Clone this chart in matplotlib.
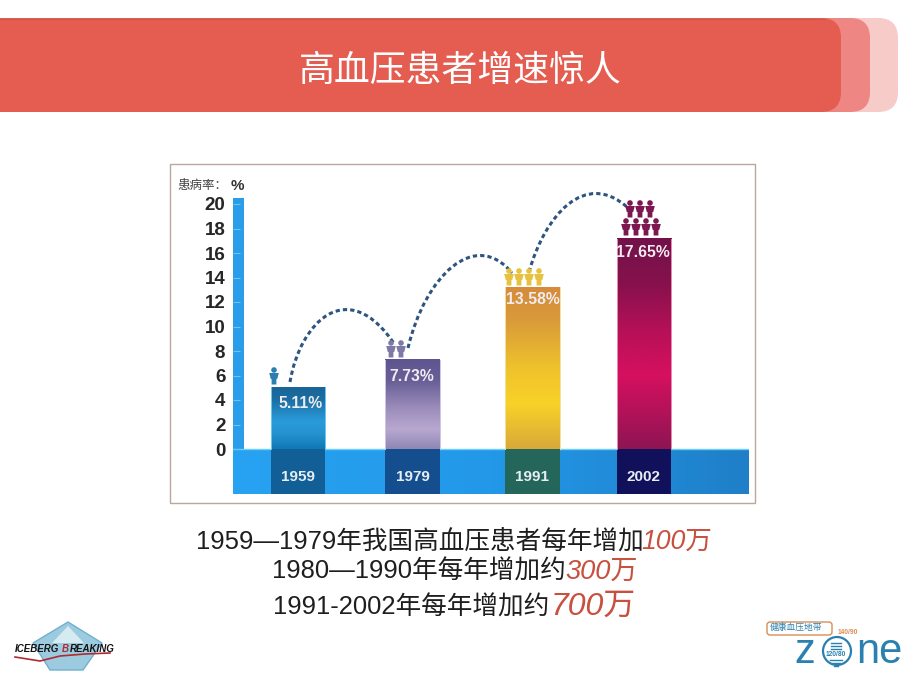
import numpy as np
import matplotlib
matplotlib.use("Agg")
import matplotlib.pyplot as plt
from matplotlib.colors import LinearSegmentedColormap
from matplotlib.patches import FancyBboxPatch, PathPatch, Rectangle, Circle, Polygon
from matplotlib.path import Path

FONT = ['Liberation Sans', 'Noto Sans CJK SC']
plt.rcParams['font.family'] = FONT

# ---- data ----
years = ['1959', '1979', '1991', '2002']
rate_labels = ['5.11%', '7.73%', '13.58%', '17.65%']
bar_heights = [5.05, 7.3, 13.2, 17.15]       # heights as drawn in the picture
y_ticks = [0, 2, 4, 6, 8, 10, 12, 14, 16, 18, 20]
title = '高血压患者增速惊人'
y_title = '患病率：'
caption_black = ['1959—1979年我国高血压患者每年增加', '1980—1990年每年增加约', '1991-2002年每年增加约']
caption_red = ['100万', '300万', '700万']

# ---- layout / style ----
W, H = 920, 690
bar_centers = [298, 412.5, 532.5, 644]
bar_w = 54.5
bar_grads = [
    [(0, '#1A6496'), (0.2, '#1B6EA4'), (0.55, '#2A9BD9'), (0.75, '#2593D0'), (1, '#0F78B5')],
    [(0, '#5E5590'), (0.25, '#6A6098'), (0.55, '#9C8DBB'), (0.78, '#B8A8D0'), (1, '#8F87B5')],
    [(0, '#D58B3C'), (0.2, '#D99A3A'), (0.5, '#EFC22C'), (0.72, '#F8D228'), (1, '#D8A93A')],
    [(0, '#73124A'), (0.2, '#84114C'), (0.45, '#B81058'), (0.65, '#D6105F'), (1, '#8E1553')],
]
band_cols = ['#125E96', '#154E8E', '#24665A', '#11105A']
bar_edges = ['#6FC8F2', '#CFC6E2', '#F6DFA0', '#E98DB4']
label_off = [16, 17, 12, 14]
label_dx = [3, -1, 0, -1]
icon_cols = ['#2C7FB0', '#7D7AA6', '#E6C23E', '#7E1650']
icon_pos = [
    [(274, 376)],
    [(391, 349), (401, 349)],
    [(509, 277), (519, 277), (529, 277), (539, 277)],
    [(630, 209), (640, 209), (650, 209), (626, 227), (636, 227), (646, 227), (656, 227)],
]

fig = plt.figure(figsize=(W / 100, H / 100), dpi=100, facecolor='white')
px = fig.add_axes([0, 0, 1, 1], zorder=0)
px.set_xlim(0, W); px.set_ylim(H, 0); px.axis('off')

# header
for x1, c in [(898, '#F7CBC8'), (870, '#EE8783'), (841, '#E55C50')]:
    px.add_patch(FancyBboxPatch((-40, 18), x1 + 40, 94,
                                boxstyle='round,pad=0,rounding_size=20', fc=c, ec='none'))
px.plot([0, 825], [18.5, 18.5], color='#D2574C', lw=0.8)
px.text(460, 71, title, color='white', fontsize=25.8, ha='center', va='center')

# chart frame
px.add_patch(Rectangle((170.5, 163.5), 585, 339.5, fc='white', ec='#BBA6A0', lw=1))

# chart axes
top_px, bot_px, left_px, right_px = 198.0, 494.0, 233.0, 749.0
zero_px, per_unit = 449.0, 12.25
ax = fig.add_axes([left_px / W, 1 - bot_px / H, (right_px - left_px) / W, (bot_px - top_px) / H], zorder=1)
ax.patch.set_alpha(0)
for s in ax.spines.values():
    s.set_visible(False)

# blue band and axis bar
band = LinearSegmentedColormap.from_list('band', ['#28A2F2', '#2398E8', '#1F7FC8'])
ymin, ymax = (zero_px - bot_px) / per_unit, (zero_px - top_px) / per_unit
ax.imshow(np.linspace(0, 1, 256)[None, :], cmap=band, aspect='auto', zorder=1,
          extent=(left_px, right_px, ymin, 0))
ax.axhline(0, color='#6CD0F8', lw=1, zorder=1.2)
ax.add_patch(Rectangle((left_px, 0), 11, ymax, fc='#2A9DEA', ec='none', zorder=1))

# bars
for i, (xc, h) in enumerate(zip(bar_centers, bar_heights)):
    cm = LinearSegmentedColormap.from_list(f'b{i}', bar_grads[i])
    ext = (xc - bar_w / 2, xc + bar_w / 2, 0, h)
    ax.imshow(np.linspace(0, 1, 256)[:, None], cmap=cm, aspect='auto', zorder=2, extent=ext, origin='upper')
    ax.plot([xc - bar_w / 2, xc - bar_w / 2], [0, h], color=bar_edges[i], lw=0.7, zorder=2.1)
    ax.plot([xc + bar_w / 2, xc + bar_w / 2], [0, h], color=bar_edges[i], lw=0.7, zorder=2.1)
    ax.add_patch(Rectangle((xc - bar_w / 2, ymin), bar_w, -ymin, fc=band_cols[i], ec='none', zorder=2))
    ax.annotate(rate_labels[i], (xc, h), xytext=(label_dx[i] * 0.72, -label_off[i] * 0.72), textcoords='offset points',
                color='#F1ECF0', fontsize=11.3, fontweight='bold', ha='center', va='center', zorder=3)

ax.set_xlim(left_px, right_px)
ax.set_ylim(ymin, ymax)
ax.set_yticks(y_ticks)
ax.set_yticklabels([str(v) for v in y_ticks], fontsize=13.5, fontweight='bold', color='#262626')
ax.tick_params(axis='y', direction='in', length=5, width=0.8, color='#6CC4F4', pad=5.5)
ax.set_xticks(bar_centers)
ax.set_xticklabels(years, fontsize=11, fontweight='bold', color='#E6EEF4')
ax.tick_params(axis='x', length=0, pad=-17.5)
ax.set_axisbelow(False)

# overlay
ov = fig.add_axes([0, 0, 1, 1], zorder=2)
ov.set_xlim(0, W); ov.set_ylim(H, 0); ov.axis('off'); ov.patch.set_alpha(0)

ov.text(177, 186, y_title, fontsize=9, color='#444444', ha='left', va='center')
ov.text(237, 186, '%', fontsize=11, fontweight='bold', color='#333333', ha='center', va='center')

# dashed arcs
arcs = [
    [(290, 382), (300, 322), (348, 274), (395, 345)],
    [(408, 348), (425, 276), (475, 228), (512, 273)],
    [(529, 272), (545, 215), (585, 170), (627, 207)],
]
for a in arcs:
    ov.add_patch(PathPatch(Path(a, [Path.MOVETO, Path.CURVE4, Path.CURVE4, Path.CURVE4]),
                           fc='none', ec='#2E5480', lw=2.2, ls=(0, (1.4, 1.0))))

# person icons
def person(x, y, c):
    ov.add_patch(Circle((x, y - 6), 2.8, fc=c, ec='none'))
    ov.add_patch(Polygon([(x - 4.8, y - 3), (x + 4.8, y - 3), (x + 3.2, y + 3), (x + 2.4, y + 3),
                          (x + 2.4, y + 8.5), (x - 2.4, y + 8.5), (x - 2.4, y + 3), (x - 3.2, y + 3)],
                         fc=c, ec='none'))

for pts, c in zip(icon_pos, icon_cols):
    for x, y in pts:
        person(x, y, c)

# captions
RED = '#C8503F'
BLK = '#1E1E1E'
rows = [(196, 641, 549, 18.45, 19.2), (272, 565, 579, 18.45, 19.6), (273, 551, 615, 18.45, 23)]
for (x0, x1, y, fs, fr), b, r in zip(rows, caption_black, caption_red):
    px.text(x0, y, b, fontsize=fs, color=BLK, ha='left', va='baseline')
    px.text(x1, y, r, fontsize=fr, color=RED, ha='left', va='baseline', style='italic')

# Iceberg logo
px.add_patch(Polygon([(68, 622), (33, 643), (50, 670), (83, 670), (102, 643)],
                     fc='#9CCBE0', ec='#6FB0CE', lw=1))
px.add_patch(Polygon([(68, 626), (52, 643), (84, 643)], fc='#D6EAF2', ec='none'))
px.plot([15, 40, 60, 85, 110], [657, 661, 656, 654, 653], color='#B02A30', lw=1.2)
px.text(15, 648.5, 'ICEBERG', fontsize=7, fontweight='bold', style='italic', color='#111111', va='center')
px.text(62, 648.5, 'B', fontsize=7, fontweight='bold', style='italic', color='#B02A30', va='center')
px.text(69.5, 648.5, 'REAKING', fontsize=7, fontweight='bold', style='italic', color='#111111', va='center')

# Zone logo
ZC = '#2A80AE'
px.add_patch(FancyBboxPatch((767, 622), 65, 13, boxstyle='round,pad=0,rounding_size=3',
                            fc='white', ec='#D98E55', lw=1))
px.text(770, 628.5, '健康血压地带', fontsize=6.3, color='#2A80AE', ha='left', va='center')
px.text(794, 663, 'z', fontsize=30, color=ZC, ha='left', va='baseline')
px.text(856, 663, 'ne', fontsize=30, color=ZC, ha='left', va='baseline')
px.add_patch(Circle((837, 651), 14, fc='white', ec=ZC, lw=1.6))
px.text(838, 632, '140/90', fontsize=4.8, fontweight='bold', color='#D98E55', ha='left', va='center')
px.text(836, 654, '120/80', fontsize=4.8, fontweight='bold', color=ZC, ha='center', va='center')
for yy, hw in zip([643, 646, 649, 660, 663, 666], [5, 5, 5, 6, 4, 2]):
    px.plot([836 - hw, 836 + hw], [yy, yy], color=ZC, lw=1.0)

fig.savefig('out.png', dpi=100, facecolor='white')
